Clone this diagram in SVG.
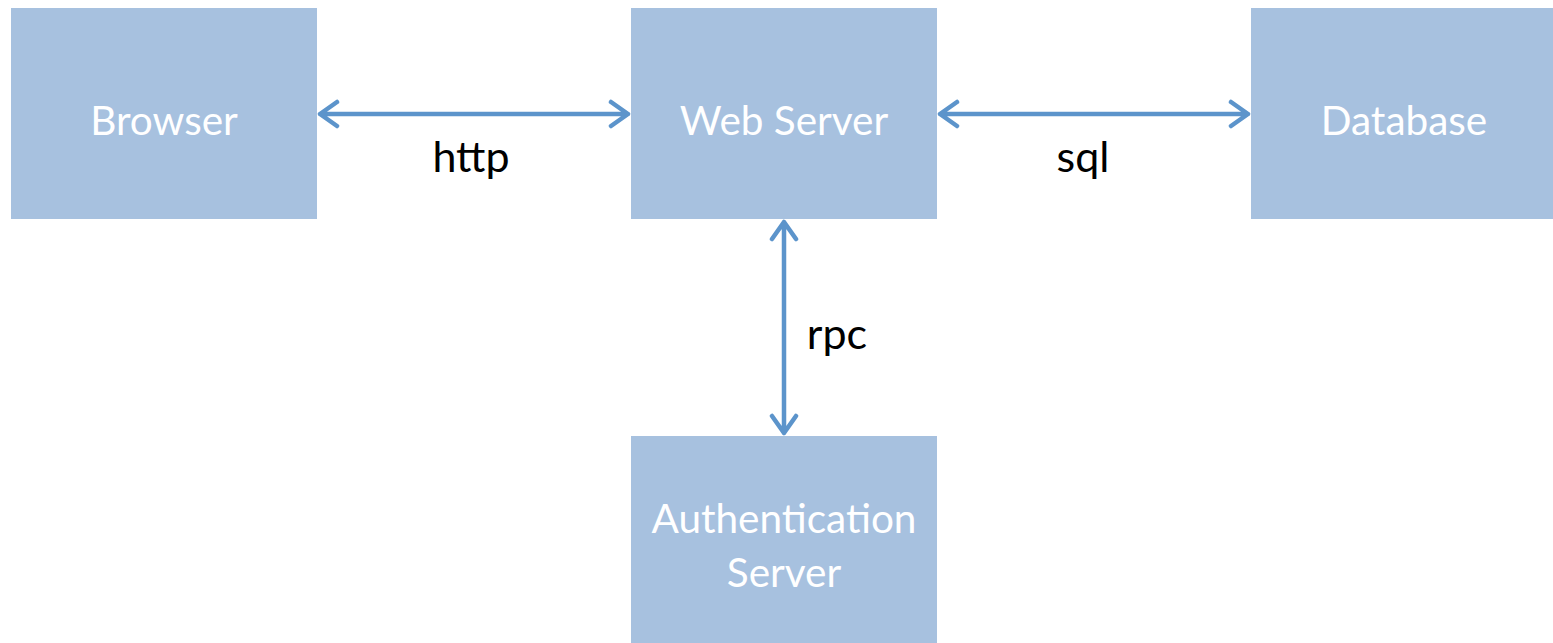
<svg xmlns="http://www.w3.org/2000/svg" width="1553" height="643" viewBox="0 0 1553 643">
<style>
.box{fill:#A7C1DF}
.nt{fill:#FFFFFF;font-family:Lato,"Open Sans",sans-serif;font-size:40.5px;text-anchor:middle}
.lt{fill:#000000;font-family:Lato,"Open Sans",sans-serif;font-size:43px;text-anchor:middle}
.ln{stroke:#5C94CB;stroke-width:4.5;fill:none;stroke-linecap:round;stroke-linejoin:round}
</style>
<rect width="1553" height="643" fill="#FFFFFF"/>
<g id="browser"><rect class="box" x="11" y="8" width="306" height="211"/><text class="nt" x="164" y="135">Browser</text></g>
<g id="webserver"><rect class="box" x="631" y="8" width="306" height="211"/><text class="nt" x="784" y="135">Web Server</text></g>
<g id="database"><rect class="box" x="1251" y="8" width="306" height="211"/><text class="nt" x="1404" y="135">Database</text></g>
<g id="auth"><rect class="box" x="631" y="436" width="306" height="211"/><text class="nt" x="784" y="533">Authentication</text><text class="nt" x="784" y="587">Server</text></g>
<g id="connectors">
<path class="ln" d="M320 114H628M337 102L320 114L337 126M611 102L628 114L611 126"/>
<path class="ln" d="M940 114H1248M957 102L940 114L957 126M1231 102L1248 114L1231 126"/>
<path class="ln" d="M784 222V433M772 239L784 222L796 239M772 416L784 433L796 416"/>
<text class="lt" x="471" y="172">http</text>
<text class="lt" x="1083" y="172">sql</text>
<text class="lt" x="837" y="349">rpc</text>
</g>
</svg>
